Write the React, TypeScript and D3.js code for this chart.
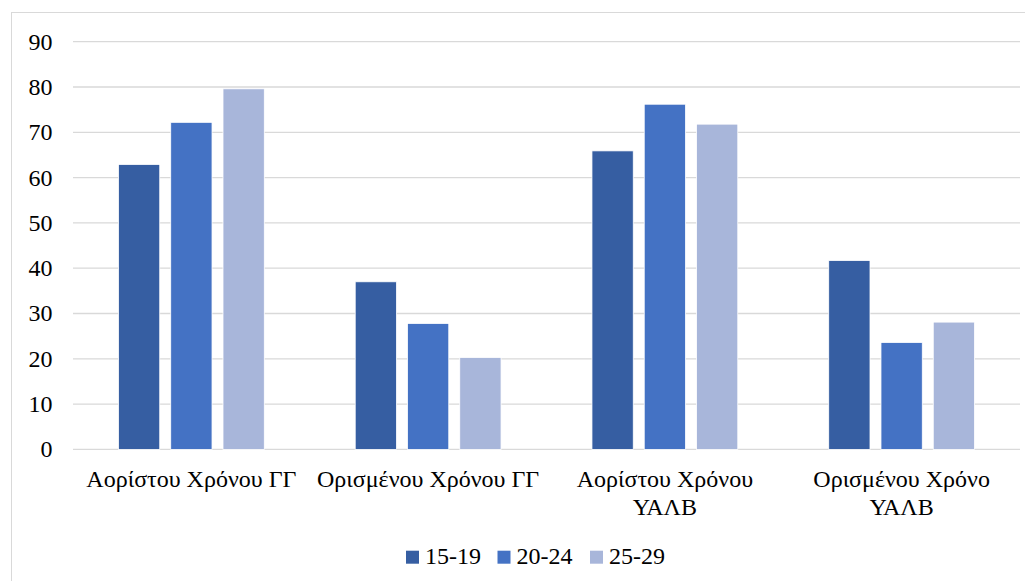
import React from 'react'
import * as d3 from 'd3'

const categories = [
  'Αορίστου Χρόνου ΓΓ',
  'Ορισμένου Χρόνου ΓΓ',
  'Αορίστου Χρόνου ΥΑΛΒ',
  'Ορισμένου Χρόνο ΥΑΛΒ'
]
const seriesNames = ['15-19', '20-24', '25-29']
const values1519 = [62.9, 37.0, 65.9, 41.7]
const values2024 = [72.2, 27.8, 76.2, 23.6]
const values2529 = [79.6, 20.3, 71.8, 28.1]
const yTicks = [0, 10, 20, 30, 40, 50, 60, 70, 80, 90]
const colors = ['#365EA2', '#4472C4', '#A8B6DA']

const W = 1033
const H = 585
const FONT = "'Times New Roman', 'Liberation Serif', 'Tinos', 'FreeSerif'"
const FS = 24

const left = 73
const right = 1020
const top = 41.7
const bottom = 449.4

// 近似的 Times 字宽（em），用来换行
const charW = (c: string) => (c === ' ' ? 0.25 : c === c.toUpperCase() && c !== c.toLowerCase() ? 0.68 : 0.48)
const measure = (s: string) => s.split('').reduce((a, c) => a + charW(c), 0) * FS

const wrap = (label: string, maxW: number) => {
  const lines: string[] = []
  let cur: string[] = []
  label.split(' ').forEach(w => {
    const test = [...cur, w].join(' ')
    if (cur.length && measure(test) > maxW) {
      lines.push(cur.join(' '))
      cur = [w]
    } else {
      cur.push(w)
    }
  })
  if (cur.length) lines.push(cur.join(' '))
  return lines
}

const App: React.FC = () => {
  const series = [values1519, values2024, values2529]
  const x = d3.scaleBand<string>().domain(categories).range([left, right]).padding(0)
  const y = d3.scaleLinear().domain([0, 90]).range([bottom, top])
  const inner = d3.scaleBand<string>()
    .domain(seriesNames)
    .range([x.bandwidth() * 0.192, x.bandwidth() * 0.808])
    .paddingInner(0.21)

  const legendX = [406, 497.5, 590]

  return (
    <div style={{ margin: -8 }}>
      <svg width={W} height={H}>
        <style>{`text { font-family: ${FONT}; font-size: ${FS}px; }`}</style>
        <rect x={11.5} y={12.5} width={W + 20} height={H + 20} fill="#fff" stroke="#D9D9D9" />

        {yTicks.map(t => (
          <line key={'g' + t} x1={left} x2={right} y1={y(t)} y2={y(t)} stroke="#D9D9D9" strokeWidth={1.3} />
        ))}
        {yTicks.map(t => (
          <text key={'t' + t} x={52.5} y={y(t) + 7.9} textAnchor="end" style={{ fontFamily: FONT, fontSize: FS }} fill="#000">
            {t}
          </text>
        ))}

        {series.map((vals, si) => (
          <g key={seriesNames[si]}>
            {vals.map((v, i) => (
              <rect
                key={i}
                x={(x(categories[i]) as number) + (inner(seriesNames[si]) as number)}
                width={inner.bandwidth()}
                y={y(v)}
                height={y(0) - y(v)}
                fill={colors[si]}
                stroke="#fff"
                strokeWidth={0.8}
              />
            ))}
          </g>
        ))}

        {categories.map(cat => {
          const cx = (x(cat) as number) + x.bandwidth() / 2
          const lines = wrap(cat, x.bandwidth() - 5)
          return (
            <text key={cat} x={cx} y={bottom + 37.3} textAnchor="middle" style={{ fontFamily: FONT, fontSize: FS }} fill="#000">
              {lines.map((l, li) => (
                <tspan key={li} x={cx} dy={li === 0 ? 0 : 28.3}>{l}</tspan>
              ))}
            </text>
          )
        })}

        {seriesNames.map((name, i) => (
          <g key={name}>
            <rect x={legendX[i]} y={550.7} width={13} height={13} fill={colors[i]} />
            <text x={legendX[i] + 19} y={564.3} style={{ fontFamily: FONT, fontSize: FS }} fill="#000">{name}</text>
          </g>
        ))}
      </svg>
    </div>
  )
}

export default App
